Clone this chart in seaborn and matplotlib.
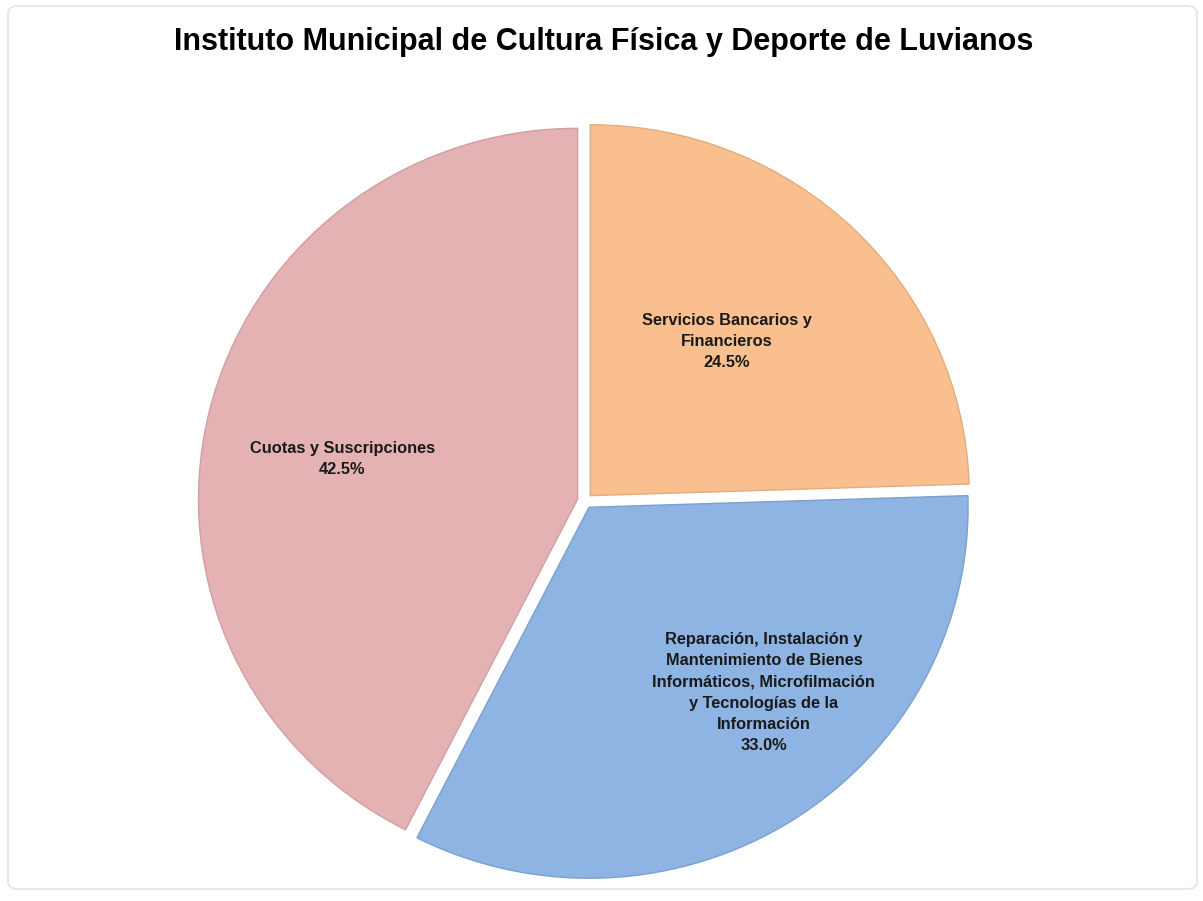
import matplotlib
matplotlib.use("Agg")
import matplotlib.pyplot as plt
import seaborn as sns
import numpy as np
from matplotlib.patches import FancyBboxPatch

# ---- data ----
categories = [
    "Servicios Bancarios y\nFinancieros",
    "Reparación, Instalación y\nMantenimiento de Bienes\nInformáticos, Microfilmación\ny Tecnologías de la\nInformación",
    "Cuotas y Suscripciones",
]
values = [24.5, 33.0, 42.5]
colors = ["#F9BF8F", "#8EB4E3", "#E5B2B4"]
edge_colors = ["#E2AC7E", "#7CA0CE", "#CFA0A2"]
title = "Instituto Municipal de Cultura Física y Deporte de Luvianos"

# label placement (layout only)
label_dist = [0.57, 0.70, 0.65]
label_angle_tweak = [3.0, 10.0, 3.5]

sns.set_theme(style="white")
plt.rcParams["font.family"] = ["Liberation Sans", "DejaVu Sans"]

W, H = 1203, 901
fig = plt.figure(figsize=(W / 100, H / 100), dpi=100)
fig.patch.set_facecolor("white")

border = FancyBboxPatch((8 / W, 12 / H), (1197 - 8) / W, (895 - 12) / H,
                        boxstyle="round,pad=0,rounding_size=0.008",
                        transform=fig.transFigure, fill=False,
                        edgecolor="#E6E6E6", linewidth=1.3)
fig.patches.append(border)

ax = fig.add_axes([0.1554, 0.01165, 0.6617, 0.8646])
wedges, _ = ax.pie(values, colors=colors, startangle=90, counterclock=False,
                   explode=[0.02] * len(values),
                   wedgeprops=dict(linewidth=1.0))
for w, ec in zip(wedges, edge_colors):
    w.set_edgecolor(ec)
ax.set_aspect("auto")
ax.set_xlim(-1.05, 1.05)
ax.set_ylim(-1.05, 1.05)
ax.axis("off")

for w, cat, v, d, tw in zip(wedges, categories, values, label_dist, label_angle_tweak):
    mid = np.deg2rad((w.theta1 + w.theta2) / 2 + tw)
    ax.text(d * np.cos(mid), d * np.sin(mid), f"{cat}\n{v:.1f}%",
            ha="center", va="center", fontsize=11.8, fontweight="bold",
            family=["Liberation Sans Narrow", "Liberation Sans", "DejaVu Sans"],
            color="#1a1a1a", linespacing=1.52)

fig.text(604 / W, 1 - 42 / H, title, ha="center", va="center",
         fontsize=22, fontweight="bold", color="black")

fig.savefig("out.png", dpi=100, facecolor="white")
